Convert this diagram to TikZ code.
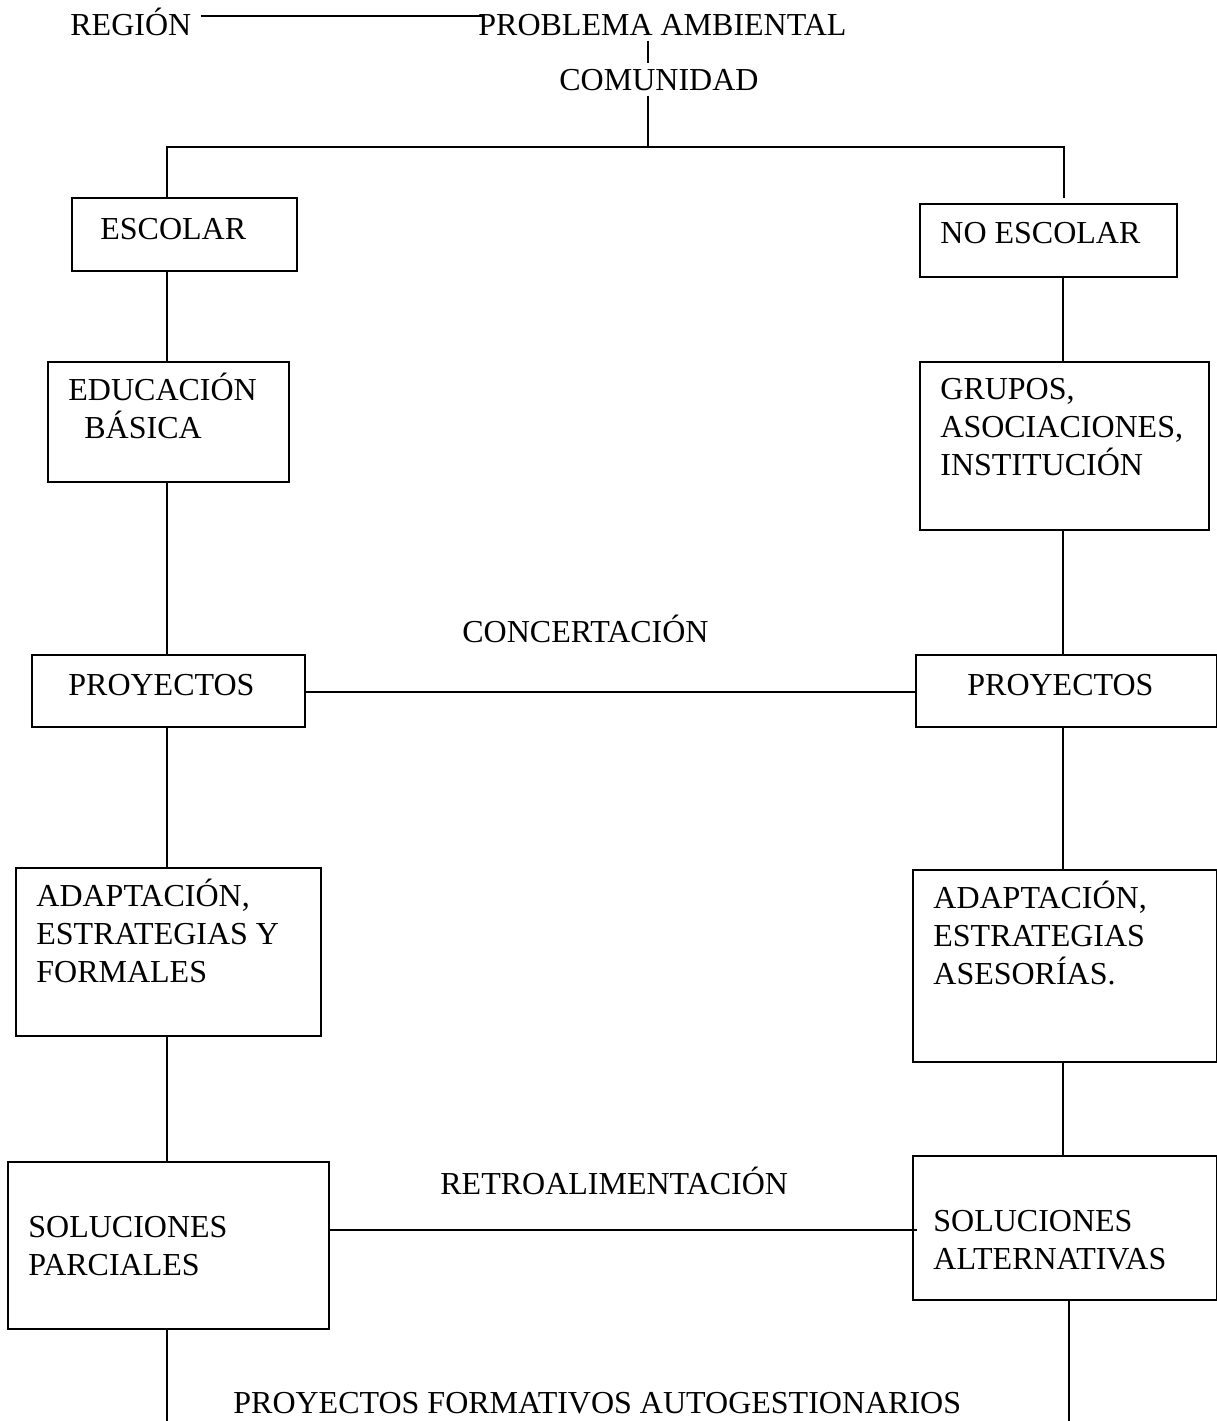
\documentclass[tikz,border=0pt]{standalone}
\usepackage{fontspec}
\setmainfont{Liberation Serif}
\usetikzlibrary{calc}
\begin{document}
\begin{tikzpicture}[x=0.5pt,y=-0.5pt,
  box/.style={draw,line width=1pt,inner sep=0pt,anchor=north west},
  txt/.style={inner sep=0pt,anchor=base west,align=left,font=\fontsize{16}{19}\selectfont},
  conn/.style={line width=0.9pt}]
\useasboundingbox (0,0) rectangle (1217,1421);
% helper coordinates
\coordinate (lx) at (167,0);
\coordinate (rx) at (1063,0);
\coordinate (rx2) at (1069,0);
\coordinate (y16) at (0,16);
\coordinate (split) at (648,147);
\coordinate (yretro) at (0,1230);
\coordinate (botL) at (167,1421);
\coordinate (botR) at (1069,1421);
% boxes
\node[box,minimum width=112.5pt,minimum height=36.5pt] (escolar) at (71,197) {};
\node[box,minimum width=120.5pt,minimum height=60pt] (edu) at (47,361) {};
\node[box,minimum width=128.5pt,minimum height=36.5pt] (noesc) at (919,203) {};
\node[box,minimum width=144.5pt,minimum height=84pt] (grupos) at (919,361) {};
\node[box,minimum width=136.5pt,minimum height=36pt] (proyL) at (31,654) {};
\node[box,minimum width=150.5pt,minimum height=36pt] (proyR) at (915,654) {};
\node[box,minimum width=152.5pt,minimum height=84pt] (adaptL) at (15,867) {};
\node[box,minimum width=152pt,minimum height=96pt] (adaptR) at (912,869) {};
\node[box,minimum width=160.5pt,minimum height=83.5pt] (solP) at (7,1161) {};
\node[box,minimum width=152pt,minimum height=72pt] (solA) at (912,1155) {};
% texts (multi-line: anchor at baseline of last line)
\node[txt] (region) at (70,35) {REGIÓN};
\node[txt] (problema) at (478,35) {PROBLEMA AMBIENTAL};
\node[txt] (comunidad) at (559,90) {COMUNIDAD};
\node[txt] (tescolar) at (100,239) {ESCOLAR};
\node[txt] (tedu) at (68,438) {EDUCACIÓN\\\hspace*{8pt}BÁSICA};
\node[txt] (tnoesc) at (940,243) {NO ESCOLAR};
\node[txt] (tgrupos) at (940,475) {GRUPOS,\\ASOCIACIONES,\\INSTITUCIÓN};
\node[txt] (concert) at (462,642) {CONCERTACIÓN};
\node[txt] (tproyL) at (68,695) {PROYECTOS};
\node[txt] (tproyR) at (967,695) {PROYECTOS};
\node[txt] (tadaptL) at (36,982) {ADAPTACIÓN,\\ESTRATEGIAS Y\\FORMALES};
\node[txt] (tadaptR) at (933,984) {ADAPTACIÓN,\\ESTRATEGIAS\\ASESORÍAS.};
\node[txt] (retro) at (440,1194) {RETROALIMENTACIÓN};
\node[txt] (tsolP) at (28,1275) {SOLUCIONES\\PARCIALES};
\node[txt] (tsolA) at (933,1269) {SOLUCIONES\\ALTERNATIVAS};
\node[txt] (pfa) at (233,1413) {PROYECTOS FORMATIVOS AUTOGESTIONARIOS};
% connectors top
\draw[conn] ($(region.east |- y16)+(9,0)$) -- ($(problema.west |- y16)+(6,0)$);
\draw[conn] ($(problema.south -| split)+(0,5)$) -- ($(comunidad.north -| split)+(0,-5)$);
\draw[conn] ($(comunidad.south -| split)+(0,5)$) -- (split);
\draw[conn] (escolar.north -| lx) -- (lx |- split) -- ($(split -| rx)+(1,0)$) -- ($(noesc.north -| rx)+(1,-5)$);
% left column
\draw[conn] (escolar.south -| lx) -- (edu.north -| lx);
\draw[conn] (edu.south -| lx) -- (proyL.north -| lx);
\draw[conn] (proyL.south -| lx) -- (adaptL.north -| lx);
\draw[conn] (adaptL.south -| lx) -- (solP.north -| lx);
\draw[conn] (solP.south -| lx) -- (botL);
% right column
\draw[conn] (noesc.south -| rx) -- (grupos.north -| rx);
\draw[conn] (grupos.south -| rx) -- (proyR.north -| rx);
\draw[conn] (proyR.south -| rx) -- (adaptR.north -| rx);
\draw[conn] (adaptR.south -| rx) -- (solA.north -| rx);
\draw[conn] (solA.south -| rx2) -- (botR);
% horizontals
\draw[conn] ($(proyL.east)+(0,1)$) -- ($(proyR.west |- proyL.east)+(0,1)$);
\draw[conn] (solP.east |- yretro) -- ($(solA.west |- yretro)+(5,0)$);
\end{tikzpicture}
\end{document}
